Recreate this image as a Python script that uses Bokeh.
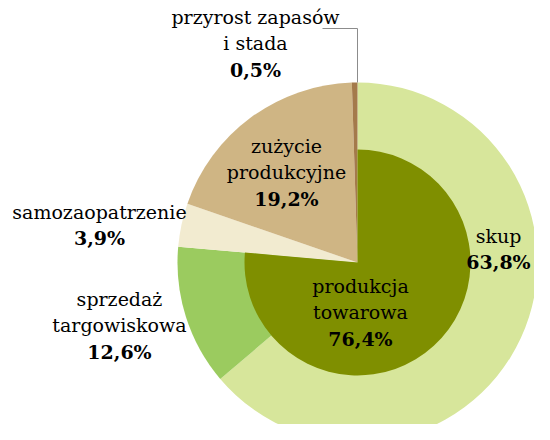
from bokeh.plotting import figure
from bokeh.models import Range1d, ColumnDataSource, Label
from bokeh.embed import file_html
from bokeh.resources import INLINE

# ---- data ----
categories = ["skup", "sprzedaż targowiskowa", "samozaopatrzenie",
              "zużycie produkcyjne", "przyrost zapasów i stada"]
shares = [63.8, 12.6, 3.9, 19.2, 0.5]
inner_category = "produkcja towarowa"
inner_share = 76.4
colors = ["#D7E69B", "#9BCB5F", "#F2EBD0", "#CFB584", "#A47A4B"]
inner_color = "#7F8F00"
pct_labels = ["63,8%", "12,6%", "3,9%", "19,2%", "0,5%"]
inner_pct_label = "76,4%"
name_lines = [["skup"], ["sprzedaż", "targowiskowa"], ["samozaopatrzenie"],
              ["zużycie", "produkcyjne"], ["przyrost zapasów", "i stada"]]
inner_name_lines = ["produkcja", "towarowa"]

# ---- layout (reference pixel coordinates; y converted below) ----
W, H = 534, 424
CX, CY = 357, 262
R_OUT, R_IN = 180, 113
label_pos = [(498, 235), (119, 298), (99, 211), (286, 145), (255, 16)]
inner_label_pos = (360, 285)
LINE_STEP = 26.5
FONT = "DejaVu Serif"
FS = "19px"


def py(y):
    return 440 - y


p = figure(width=W, height=H, output_backend="svg", toolbar_location=None,
           x_range=Range1d(0, W), y_range=Range1d(440 - H, 440),
           min_border=0)
p.axis.visible = False
p.grid.visible = False
p.outline_line_color = None
p.background_fill_color = None
p.border_fill_color = None

# angles: clockwise from 12 o'clock
cum = 0.0
starts, ends = [], []
for s in shares:
    a0 = cum / 100 * 360
    cum += s
    a1 = cum / 100 * 360
    starts.append(90 - a0)
    ends.append(90 - a1)

src = ColumnDataSource(dict(start=starts, end=ends, color=colors))
p.wedge(x=CX, y=py(CY), radius=R_OUT, start_angle="start", end_angle="end",
        start_angle_units="deg", end_angle_units="deg", direction="clock",
        fill_color="color", line_color=None, source=src)

p.wedge(x=CX, y=py(CY), radius=R_IN, start_angle=90,
        end_angle=90 - inner_share / 100 * 360,
        start_angle_units="deg", end_angle_units="deg", direction="clock",
        fill_color=inner_color, line_color=None)

# leader line for the smallest slice
p.line(x=[322, CX, CX], y=[py(28), py(28), py(CY - R_OUT)],
       line_color="#8C8C8C", line_width=1)


def add_label(x, y, text, style):
    p.add_layout(Label(x=x, y=y, text=text, text_font=FONT, text_font_size=FS,
                       text_font_style=style, text_align="center",
                       text_baseline="middle", text_color="#000000"))


for (lx, ly), lines, pct in zip(label_pos, name_lines, pct_labels):
    for i, ln in enumerate(lines):
        add_label(lx, py(ly + i * LINE_STEP), ln, "normal")
    add_label(lx, py(ly + len(lines) * LINE_STEP), pct, "bold")
lx, ly = inner_label_pos
for i, ln in enumerate(inner_name_lines):
    add_label(lx, py(ly + i * LINE_STEP), ln, "normal")
add_label(lx, py(ly + len(inner_name_lines) * LINE_STEP), inner_pct_label, "bold")

open("out.html", "w").write(file_html(p, INLINE))
